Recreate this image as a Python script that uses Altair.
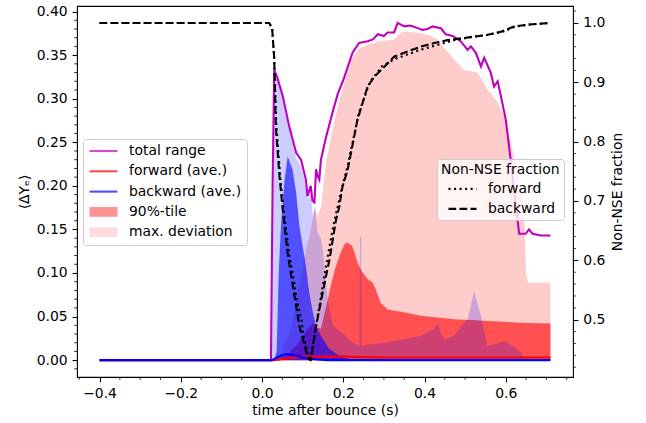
import altair as alt
import pandas as pd

# ---------------- data (time after bounce in s) ----------------
T_TOTAL = [-0.40, 0.022, 0.026, 0.030, 0.037, 0.051, 0.067, 0.084, 0.096, 0.108, 0.112, 0.120, 0.124, 0.129,
           0.133, 0.137, 0.141, 0.145, 0.157, 0.174, 0.186, 0.202, 0.223, 0.239, 0.260, 0.273, 0.285, 0.300,
           0.309, 0.325, 0.334, 0.350, 0.365, 0.383, 0.395, 0.407, 0.420, 0.440, 0.452, 0.469, 0.489, 0.506,
           0.514, 0.526, 0.539, 0.547, 0.563, 0.571, 0.580, 0.588, 0.600, 0.612, 0.625, 0.633, 0.649, 0.657,
           0.666, 0.686, 0.710]
V_TOTAL = [0.0, 0.0, 0.200, 0.333, 0.325, 0.303, 0.268, 0.238, 0.230, 0.207, 0.188, 0.200, 0.183, 0.181,
           0.219, 0.211, 0.207, 0.230, 0.255, 0.285, 0.305, 0.324, 0.353, 0.364, 0.366, 0.368, 0.374, 0.372,
           0.376, 0.376, 0.387, 0.383, 0.384, 0.381, 0.379, 0.380, 0.383, 0.381, 0.374, 0.372, 0.366, 0.356,
           0.360, 0.353, 0.337, 0.347, 0.330, 0.314, 0.320, 0.303, 0.276, 0.230, 0.177, 0.145, 0.145, 0.150,
           0.145, 0.143, 0.143]

T_FAVE = [-0.40, 0.030, 0.060, 0.100, 0.200, 0.300, 0.710]
V_FAVE = [0.0, 0.0, 0.002, 0.004, 0.004, 0.003, 0.003]

T_BAVE = [-0.40, 0.025, 0.040, 0.060, 0.080, 0.100, 0.130, 0.160, 0.710]
V_BAVE = [0.0, 0.0, 0.004, 0.007, 0.006, 0.003, 0.001, 0.0, 0.0]

T_F90 = [-0.40, 0.030, 0.060, 0.090, 0.110, 0.125, 0.135, 0.145, 0.152, 0.160, 0.169, 0.180, 0.194, 0.203,
         0.210, 0.222, 0.230, 0.235, 0.243, 0.252, 0.260, 0.272, 0.280, 0.292, 0.309, 0.350, 0.391, 0.432,
         0.473, 0.514, 0.555, 0.596, 0.637, 0.710]
V_F90 = [0.0, 0.0, 0.005, 0.020, 0.035, 0.042, 0.038, 0.036, 0.050, 0.066, 0.085, 0.105, 0.124, 0.133,
         0.135, 0.131, 0.120, 0.112, 0.104, 0.098, 0.093, 0.089, 0.081, 0.066, 0.058, 0.055, 0.051, 0.049,
         0.047, 0.046, 0.045, 0.044, 0.043, 0.042]

T_FMAX = [-0.40, 0.030, 0.050, 0.070, 0.090, 0.105, 0.120, 0.130, 0.137, 0.145, 0.157, 0.165, 0.174, 0.186,
          0.202, 0.220, 0.240, 0.260, 0.290, 0.325, 0.340, 0.350, 0.375, 0.392, 0.410, 0.433, 0.445, 0.459,
          0.473, 0.498, 0.531, 0.555, 0.580, 0.600, 0.620, 0.645, 0.650, 0.655, 0.710]
V_FMAX = [0.0, 0.0, 0.010, 0.035, 0.080, 0.120, 0.150, 0.175, 0.165, 0.175, 0.225, 0.245, 0.265, 0.290,
          0.318, 0.345, 0.358, 0.362, 0.366, 0.368, 0.375, 0.377, 0.376, 0.375, 0.373, 0.368, 0.360, 0.353,
          0.345, 0.333, 0.330, 0.311, 0.296, 0.276, 0.234, 0.173, 0.100, 0.089, 0.089]

T_B90 = [-0.40, 0.030, 0.036, 0.041, 0.047, 0.055, 0.063, 0.075, 0.084, 0.092, 0.100, 0.108, 0.116, 0.125,
         0.133, 0.145, 0.165, 0.190, 0.220, 0.710]
V_B90 = [0.0, 0.0, 0.010, 0.100, 0.158, 0.204, 0.234, 0.219, 0.192, 0.154, 0.131, 0.108, 0.078, 0.055,
         0.039, 0.028, 0.013, 0.005, 0.0, 0.0]

T_BMAX = [-0.40, 0.022, 0.026, 0.030, 0.037, 0.051, 0.067, 0.084, 0.096, 0.108, 0.112, 0.120, 0.125, 0.130,
          0.137, 0.145, 0.150, 0.157, 0.165, 0.175, 0.190, 0.210, 0.225, 0.240, 0.241, 0.244, 0.245, 0.260,
          0.300, 0.350, 0.391, 0.424, 0.432, 0.440, 0.449, 0.473, 0.490, 0.506, 0.522, 0.539, 0.555, 0.571,
          0.596, 0.620, 0.637, 0.645, 0.650, 0.710]
V_BMAX = [0.0, 0.0, 0.200, 0.330, 0.322, 0.299, 0.265, 0.232, 0.222, 0.200, 0.185, 0.190, 0.165, 0.177,
          0.146, 0.140, 0.125, 0.090, 0.060, 0.040, 0.034, 0.026, 0.020, 0.016, 0.142, 0.142, 0.016, 0.018,
          0.020, 0.024, 0.028, 0.036, 0.043, 0.030, 0.024, 0.028, 0.039, 0.047, 0.079, 0.051, 0.016, 0.018,
          0.022, 0.016, 0.009, 0.003, 0.0, 0.0]

T_NSE_F = [-0.40, 0.018, 0.025, 0.030, 0.035, 0.045, 0.054, 0.067, 0.080, 0.085, 0.097, 0.102, 0.110, 0.114,
           0.120, 0.128, 0.143, 0.160, 0.176, 0.196, 0.211, 0.238, 0.266, 0.297, 0.330, 0.391, 0.432, 0.473,
           0.514, 0.555, 0.596, 0.625, 0.655, 0.710]
V_NSE_F = [1.0, 1.0, 0.990, 0.940, 0.830, 0.740, 0.680, 0.610, 0.560, 0.534, 0.500, 0.472, 0.450, 0.438,
           0.435, 0.470, 0.530, 0.600, 0.660, 0.720, 0.760, 0.848, 0.901, 0.928, 0.940, 0.955, 0.963, 0.971,
           0.976, 0.980, 0.986, 0.994, 0.997, 1.0]

T_NSE_B = [-0.40, 0.018, 0.025, 0.030, 0.034, 0.043, 0.051, 0.063, 0.076, 0.092, 0.108, 0.116, 0.120, 0.133,
           0.149, 0.166, 0.182, 0.190, 0.198, 0.211, 0.235, 0.260, 0.277, 0.301, 0.325, 0.358, 0.391, 0.424,
           0.457, 0.490, 0.522, 0.555, 0.588, 0.620, 0.653, 0.710]
V_NSE_B = [1.0, 1.0, 0.990, 0.940, 0.825, 0.741, 0.685, 0.612, 0.556, 0.489, 0.449, 0.433, 0.432, 0.489,
           0.545, 0.601, 0.668, 0.690, 0.724, 0.753, 0.837, 0.893, 0.910, 0.926, 0.943, 0.952, 0.960, 0.966,
           0.971, 0.974, 0.977, 0.980, 0.985, 0.994, 0.997, 1.0]

LEG = ["total range", "forward (ave.)", "backward (ave.)", "90%-tile", "max. deviation"]
NSE = ["forward", "backward"]

X_TICKS = [-0.4, -0.2, 0.0, 0.2, 0.4, 0.6]
YL_TICKS = [0.0, 0.05, 0.10, 0.15, 0.20, 0.25, 0.30, 0.35, 0.40]
YR_TICKS = [0.5, 0.6, 0.7, 0.8, 0.9, 1.0]
X_MINOR = [k * 0.05 for k in range(-9, 16) if k % 4 != 0]
YL_MINOR = [k * 0.01 for k in range(-1, 41) if k % 5 != 0]
YR_MINOR = [k * 0.02 for k in range(21, 52) if k % 5 != 0]

# ---------------- tables ----------------
def frame(ts, vs, name, col="series"):
    return pd.DataFrame({"t": ts, "v": vs, col: name})

lines_df = pd.concat([frame(T_TOTAL, V_TOTAL, LEG[0]), frame(T_FAVE, V_FAVE, LEG[1]),
                      frame(T_BAVE, V_BAVE, LEG[2])], ignore_index=True)
red_df = pd.concat([frame(T_F90, V_F90, LEG[3]), frame(T_FMAX, V_FMAX, LEG[4])], ignore_index=True)
b90_df = frame(T_B90, V_B90, "b90")
bmax_df = frame(T_BMAX, V_BMAX, "bmax")
nse_df = pd.concat([frame(T_NSE_F, V_NSE_F, NSE[0], "nse"), frame(T_NSE_B, V_NSE_B, NSE[1], "nse")],
                   ignore_index=True)
legend_df = pd.DataFrame({"t": [0.0] * 5, "v": [-1.0] * 5, "series": LEG})

# ---------------- scales / axes ----------------
FONT = "DejaVu Sans"
FS = 13.9
LW = 2.08
xs = alt.Scale(domain=[-0.4555, 0.7655], nice=False, zero=False)
yls = alt.Scale(domain=[-0.01935, 0.4064], nice=False, zero=False)
yrs = alt.Scale(domain=[0.4035, 1.0285], nice=False, zero=False)

x_axis = alt.Axis(values=X_TICKS, format=".1f", title="time after bounce (s)", titlePadding=3)
yl_axis = alt.Axis(values=YL_TICKS, format=".2f", title="⟨ΔYₑ⟩", titlePadding=5)
yr_axis = alt.Axis(values=YR_TICKS, format=".1f", title="Non-NSE fraction", orient="right",
                   titlePadding=6, titleAngle=270, titleBaseline="top")

STROKES = ["#bf00bf", "#ff0000", "#0000ff", "transparent", "transparent"]
FILLS = ["transparent", "transparent", "transparent", "rgba(255,0,0,0.6)", "rgba(255,0,0,0.2)"]
LINE_SHAPE = "M-1,0L1,0"
PATCH_SHAPE = "M-1,-0.35L1,-0.35L1,0.35L-1,0.35Z"
SHAPES = [LINE_SHAPE, LINE_SHAPE, LINE_SHAPE, PATCH_SHAPE, PATCH_SHAPE]

leg_left = alt.Legend(title=None, orient="none", legendX=6, legendY=133, padding=5,
                      fillColor="rgba(255,255,255,0.8)", strokeColor="#cccccc", cornerRadius=3,
                      labelFont=FONT, labelFontSize=FS, labelColor="black", labelLimit=400,
                      symbolStrokeWidth=LW, symbolSize=784, clipHeight=14, rowPadding=6.3,
                      labelOffset=10)
leg_right = alt.Legend(title="Non-NSE fraction", orient="none", legendX=360, legendY=153, padding=4,
                       fillColor="rgba(255,255,255,0.8)", strokeColor="#cccccc", cornerRadius=3,
                       titleFont=FONT, titleFontSize=FS, titleFontWeight="normal", titleColor="black",
                       titlePadding=5, labelFont=FONT, labelFontSize=FS, labelColor="black",
                       symbolType="stroke", symbolStrokeColor="black", symbolStrokeWidth=LW,
                       symbolSize=784, clipHeight=14, rowPadding=6, symbolOffset=6, labelOffset=10)

X = lambda: alt.X("t:Q", scale=xs, axis=x_axis)
YL = lambda: alt.Y("v:Q", scale=yls, axis=yl_axis)
YR = lambda: alt.Y("v:Q", scale=yrs, axis=yr_axis)

red_fill = alt.Chart(red_df).mark_area(clip=True).encode(
    x=X(), y=YL(), y2=alt.datum(0),
    fill=alt.Fill("series:N", scale=alt.Scale(domain=LEG, range=FILLS), legend=leg_left),
)
b90_fill = alt.Chart(b90_df).mark_area(clip=True, color="#0000ff", fillOpacity=0.6).encode(
    x=X(), y=YL(), y2=alt.datum(0))
bmax_fill = alt.Chart(bmax_df).mark_area(clip=True, color="#0000ff", fillOpacity=0.2).encode(
    x=X(), y=YL(), y2=alt.datum(0))
lines = alt.Chart(lines_df).mark_line(clip=True, strokeWidth=LW).encode(
    x=X(), y=YL(),
    stroke=alt.Stroke("series:N", scale=alt.Scale(domain=LEG, range=STROKES), legend=leg_left),
)
legend_pts = alt.Chart(legend_df).mark_point(clip=True).encode(
    x=X(), y=YL(),
    shape=alt.Shape("series:N", scale=alt.Scale(domain=LEG, range=SHAPES), legend=leg_left),
)
x_minor = alt.Chart(pd.DataFrame({"t": X_MINOR})).mark_rule(color="black", strokeWidth=0.83).encode(
    x=X(), y=alt.value(371), y2=alt.value(373.8))
yl_minor = alt.Chart(pd.DataFrame({"v": YL_MINOR})).mark_rule(color="black", strokeWidth=0.83).encode(
    y=YL(), x=alt.value(0), x2=alt.value(-2.8))

left = alt.layer(red_fill, b90_fill, bmax_fill, lines, legend_pts, x_minor, yl_minor)

nse_lines = alt.Chart(nse_df).mark_line(clip=True, strokeWidth=LW, color="black").encode(
    x=X(), y=YR(),
    strokeDash=alt.StrokeDash("nse:N", scale=alt.Scale(domain=NSE, range=[[2.08, 3.44], [7.7, 3.33]]),
                              legend=leg_right),
)
yr_minor = alt.Chart(pd.DataFrame({"v": YR_MINOR})).mark_rule(color="black", strokeWidth=0.83).encode(
    y=YR(), x=alt.value(496), x2=alt.value(498.8))
right = alt.layer(nse_lines, yr_minor)

chart = alt.layer(left, right).resolve_scale(y="independent").properties(
    width=496, height=371, autosize="none",
    padding={"left": 77, "top": 6, "right": 73, "bottom": 46},
).configure(font=FONT).configure_view(stroke="black", strokeWidth=1.1).configure_axis(
    labelFont=FONT, titleFont=FONT, labelFontSize=FS, titleFontSize=FS, labelColor="black",
    titleColor="black", titleFontWeight="normal", tickColor="black", tickSize=4.9, tickWidth=1.1,
    labelPadding=4.9, domain=False, grid=False,
)

chart.save("out.html", embed_options={"renderer": "svg", "actions": False})
